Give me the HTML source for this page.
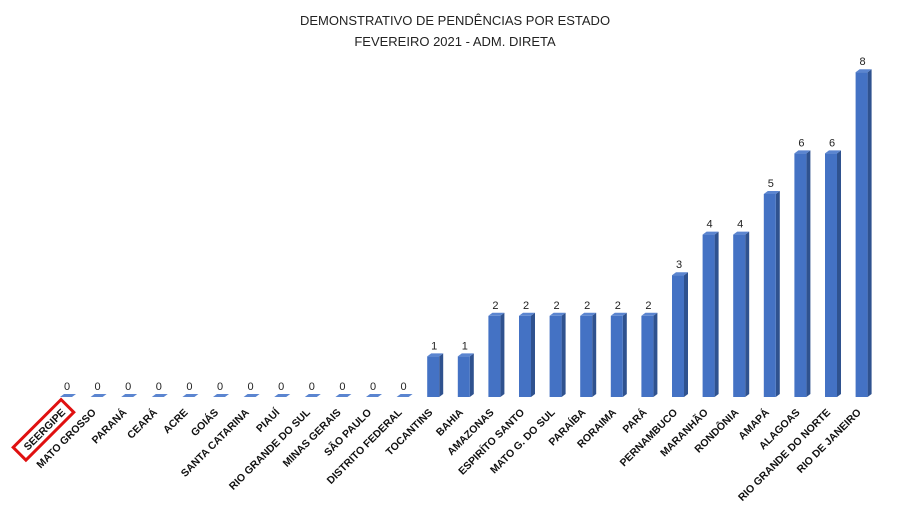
<!DOCTYPE html>
<html><head><meta charset="utf-8"><style>
html,body{margin:0;padding:0;background:#fff;}
svg{display:block;font-family:"Liberation Sans",sans-serif;}
</style></head><body>
<svg id="chart" width="897" height="525" viewBox="0 0 897 525">
<text x="455" y="25" text-anchor="middle" font-size="13" fill="#222">DEMONSTRATIVO DE PENDÊNCIAS POR ESTADO</text>
<text x="455" y="46" text-anchor="middle" font-size="13" fill="#222">FEVEREIRO 2021 - ADM. DIRETA</text>
<g id="bars"></g>
<g id="labels"></g>
</svg>
<script>
const categories = ["SEERGIPE","MATO GROSSO","PARANÁ","CEARÁ","ACRE","GOIÁS","SANTA CATARINA","PIAUÍ","RIO GRANDE DO SUL","MINAS GERAIS","SÃO PAULO","DISTRITO  FEDERAL","TOCANTINS","BAHIA","AMAZONAS","ESPIRÍTO  SANTO","MATO G. DO SUL","PARAÍBA","RORAIMA","PARÁ","PERNAMBUCO","MARANHÃO","RONDÔNIA","AMAPÁ","ALAGOAS","RIO GRANDE DO NORTE","RIO DE JANEIRO"];
const values = [0,0,0,0,0,0,0,0,0,0,0,0,1,1,2,2,2,2,2,2,3,4,4,5,6,6,8];
const highlighted = ["SEERGIPE"];

const NS = "http://www.w3.org/2000/svg";
const x0 = 66, step = 30.6, base = 397, unit = 40.6, bw = 12, dx = 4, dy = 3;
const xScale = i => x0 + i * step;
const yScale = v => base - v * unit;
const barsG = document.getElementById('bars');
const labelsG = document.getElementById('labels');
function mk(tag, attrs, parent){ const e=document.createElementNS(NS,tag); for(const k in attrs) e.setAttribute(k,attrs[k]); parent.appendChild(e); return e; }

categories.forEach((c,i)=>{
  const cx = xScale(i), l = cx - bw/2, r = cx + bw/2, top = yScale(values[i]);
  const g = mk('g',{},barsG);
  
  
  mk('polygon',{points:`${r},${top} ${r+dx},${top-dy} ${r+dx},${base-dy} ${r},${base}`,fill:'#2F528F'},g);
  mk('polygon',{points:`${l},${top} ${l+dx},${top-dy} ${r+dx},${top-dy} ${r},${top}`,fill:'#5B85D0'},g);
  if(values[i]>0) mk('rect',{x:l,y:top,width:bw,height:base-top,fill:'#4472C4'},g);
  const vt = mk('text',{x:cx+1,y:top-7,'text-anchor':'middle','font-size':'11',fill:'#222'},g);
  vt.textContent = values[i];
  
  

  const lg = mk('g',{transform:`translate(${cx},413) rotate(-45)`},labelsG);
  
  
  const t = mk('text',{x:0,y:0,'text-anchor':'end','font-size':'10.5','font-weight':'bold',fill:'#111'},lg);
  t.textContent = c;
  if(highlighted.includes(c)){
    const w = t.getComputedTextLength();
    const rb = mk('rect',{x:-w-8,y:-13,width:w+14,height:18,fill:'none',stroke:'#E01010','stroke-width':'3'},lg);
    
    
  }
});
</script>
</body></html>
